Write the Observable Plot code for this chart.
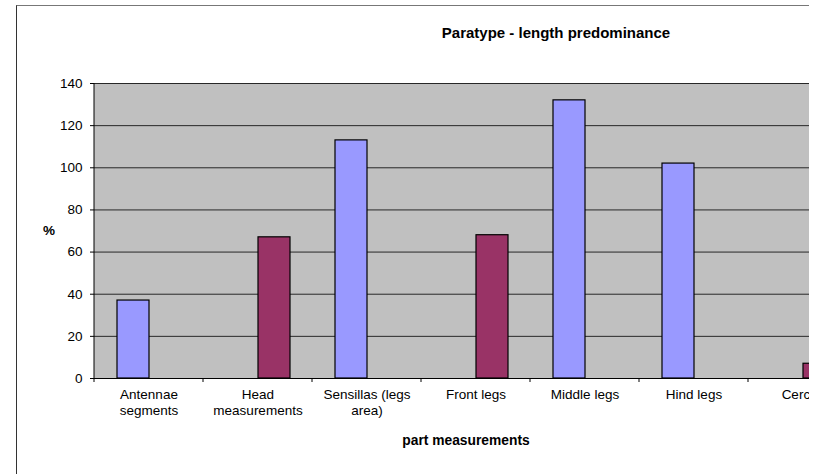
<!DOCTYPE html>
<html><head><meta charset="utf-8">
<script src="https://cdn.jsdelivr.net/npm/d3@7"></script>
<script src="https://cdn.jsdelivr.net/npm/@observablehq/plot@0.6"></script>
<style>
body{margin:0;background:#fff;font-family:"Liberation Sans",Arial,sans-serif;}
#clip{position:relative;width:809px;height:474px;overflow:hidden;background:#fff;}
#border{position:absolute;left:16px;top:5px;width:1200px;height:1000px;border-left:1px solid #333;border-top:1px solid #777;box-sizing:border-box;}
#chart{position:absolute;left:0;top:0;width:900px;}
#chart svg{max-width:none !important;}
.lbl{position:absolute;white-space:nowrap;font-weight:bold;color:#000;transform:translate(-50%,-50%);}
</style>
</head><body>
<div id="clip">
  <div id="border"></div>
  <div id="chart"></div>
  <div class="lbl" style="left:556px;top:32px;font-size:15px;">Paratype - length predominance</div>
  <div class="lbl" style="left:49px;top:230px;font-size:13.5px;">%</div>
  <div class="lbl" style="left:466px;top:440px;font-size:13.8px;">part measurements</div>
</div>
<script>
const categories = ["Antennae\nsegments", "Head\nmeasurements", "Sensillas (legs\narea)", "Front legs", "Middle legs", "Hind legs", "Cercus"];
const seriesNames = ["Series 1", "Series 2"];
const series1Values = [37, null, 113, null, 132, 102, null];
const series2Values = [null, 67, null, 68, null, null, 7];
const yTicks = [0, 20, 40, 60, 80, 100, 120, 140];
const seriesColors = ["#9999ff", "#993366"];

const table = [];
categories.forEach((c, i) => {
  if (series1Values[i] != null) table.push({category: c, series: seriesNames[0], value: series1Values[i]});
  if (series2Values[i] != null) table.push({category: c, series: seriesNames[1], value: series2Values[i]});
});

const plot = Plot.plot({
  width: 900, height: 474,
  marginLeft: 94, marginRight: 43, marginTop: 83, marginBottom: 96,
  style: {fontFamily: "Liberation Sans, Arial, sans-serif", fontSize: "13.5px", color: "#000", background: "transparent", maxWidth: "none"},
  fx: {domain: categories, padding: 0, axis: null, label: null},
  x: {domain: seriesNames, paddingInner: 0, paddingOuter: 0.703, axis: null, label: null},
  y: {domain: [0, 140], axis: null, label: null},
  color: {domain: seriesNames, range: seriesColors},
  marks: [
    Plot.gridY(yTicks, {stroke: "#000", strokeOpacity: 0.8}),
    Plot.barY(table, {fx: "category", x: "series", y: "value", fill: "series", stroke: "#000", strokeWidth: 1.2}),
    Plot.ruleY([0], {stroke: "#000"}),
    Plot.axisY(yTicks, {anchor: "left", label: null, tickSize: 4, tickPadding: 8, fontSize: 13.5, stroke: "#000", tickFormat: d => d}),
    Plot.axisFx({anchor: "bottom", label: null, tickSize: 0, tickPadding: 9, fontSize: 13.5, lineHeight: 1.2})
  ]
});

// plot-area background, category boundary ticks and left axis line, positioned via the plot's own scales
const fx = plot.scale("fx");
const y = plot.scale("y");
const y0 = y.apply(0), yTop = y.apply(140);
const bounds = categories.map(c => fx.apply(c));
bounds.push(fx.apply(categories[categories.length - 1]) + fx.bandwidth);
const svg = d3.select(plot);
svg.insert("rect", ":first-child")
  .attr("x", bounds[0]).attr("y", yTop)
  .attr("width", bounds[bounds.length - 1] - bounds[0]).attr("height", y0 - yTop)
  .attr("fill", "#c0c0c0");
const g = svg.append("g").attr("stroke", "#000");
g.selectAll("line.t").data(bounds).join("line")
  .attr("x1", d => d).attr("x2", d => d).attr("y1", y0).attr("y2", y0 + 4);
g.append("line").attr("x1", bounds[0]).attr("x2", bounds[0]).attr("y1", yTop).attr("y2", y0);

document.getElementById("chart").appendChild(plot);
</script>
</body></html>
